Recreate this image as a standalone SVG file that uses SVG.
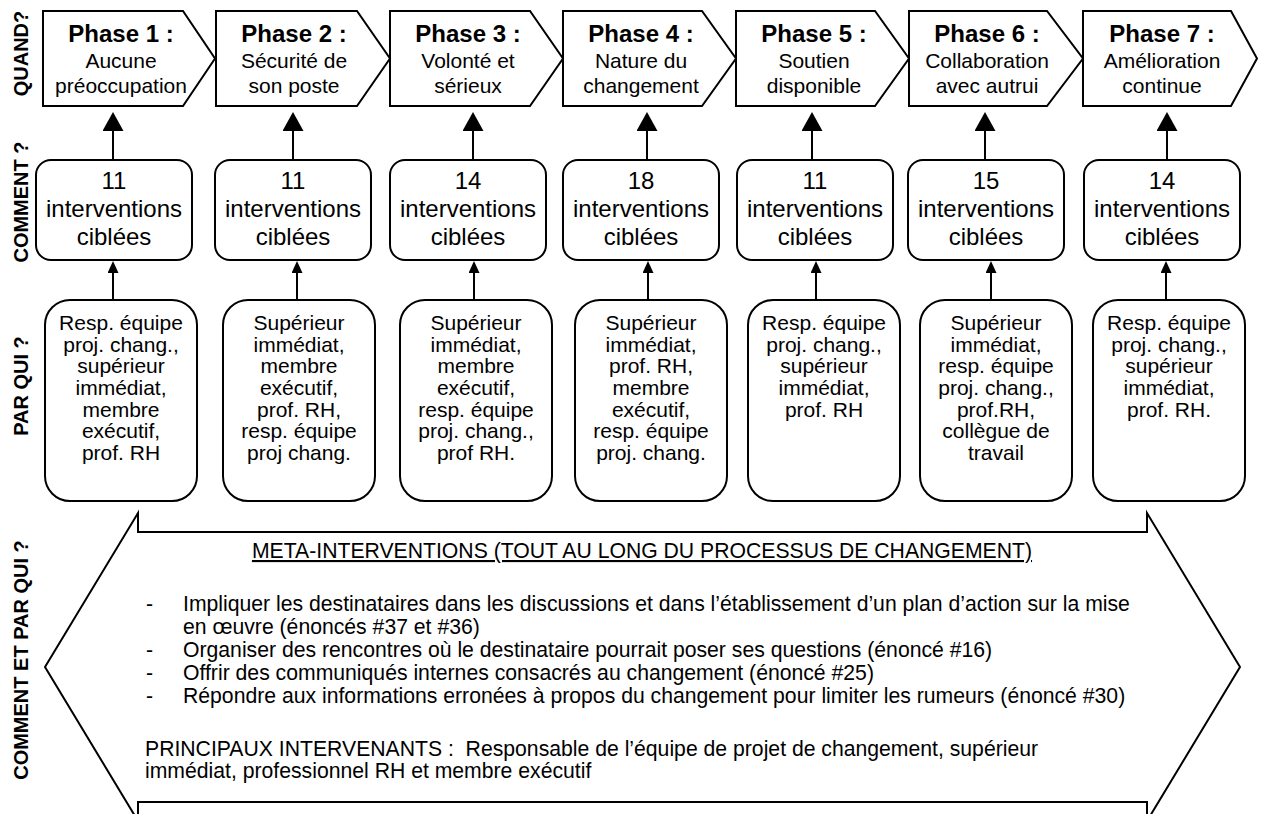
<svg xmlns="http://www.w3.org/2000/svg" width="1264" height="814" viewBox="0 0 1264 814">
<style>
text{font-family:"Liberation Sans",Arial,sans-serif;fill:#000}
.sh{fill:#fff;stroke:#000;stroke-width:2;stroke-linejoin:miter}
.lbl{font-weight:bold;font-size:20px;text-anchor:middle}
.ph{font-size:21px;text-anchor:middle}
.ph .b{font-weight:bold;font-size:24px}
.iv{font-size:24px;text-anchor:middle}
.who{font-size:21px;text-anchor:middle}
.meta{font-size:21.2px}
.cn{stroke:#000;stroke-width:2;fill:none}
</style>
<defs>
<marker id="big" viewBox="0 0 19 21" refX="0" refY="10.5" markerWidth="19" markerHeight="21" markerUnits="userSpaceOnUse" orient="auto"><path d="M0,0 L19,10.5 L0,21 Z" fill="#000"/></marker>
<marker id="small" viewBox="0 0 12 11" refX="0" refY="5.5" markerWidth="12" markerHeight="11" markerUnits="userSpaceOnUse" orient="auto"><path d="M0,0 L12,5.5 L0,11 Z" fill="#000"/></marker>
</defs>
<rect width="1264" height="814" fill="#fff"/>

<g id="labels">
<text class="lbl" transform="translate(28,53.5) rotate(-90)">QUAND?</text>
<text class="lbl" transform="translate(28,202) rotate(-90)">COMMENT ?</text>
<text class="lbl" transform="translate(28,386) rotate(-90)">PAR QUI ?</text>
<text class="lbl" transform="translate(28,660) rotate(-90)">COMMENT ET PAR QUI ?</text>
</g>

<g id="phase1"><path class="sh" d="M43,11 H183 L215,58.5 L183,106 H43 Z"/><text class="ph"><tspan class="b" x="121" y="42">Phase 1 :</tspan><tspan x="121" y="68">Aucune</tspan><tspan x="121" y="93">préoccupation</tspan></text></g>
<g id="phase2"><path class="sh" d="M216,11 H357 L390,58.5 L357,106 H216 Z"/><text class="ph"><tspan class="b" x="294" y="42">Phase 2 :</tspan><tspan x="294" y="68">Sécurité de</tspan><tspan x="294" y="93">son poste</tspan></text></g>
<g id="phase3"><path class="sh" d="M390,11 H530 L563,58.5 L530,106 H390 Z"/><text class="ph"><tspan class="b" x="468" y="42">Phase 3 :</tspan><tspan x="468" y="68">Volonté et</tspan><tspan x="468" y="93">sérieux</tspan></text></g>
<g id="phase4"><path class="sh" d="M563,11 H702 L736,58.5 L702,106 H563 Z"/><text class="ph"><tspan class="b" x="641" y="42">Phase 4 :</tspan><tspan x="641" y="68">Nature du</tspan><tspan x="641" y="93">changement</tspan></text></g>
<g id="phase5"><path class="sh" d="M736,11 H875 L909,58.5 L875,106 H736 Z"/><text class="ph"><tspan class="b" x="814" y="42">Phase 5 :</tspan><tspan x="814" y="68">Soutien</tspan><tspan x="814" y="93">disponible</tspan></text></g>
<g id="phase6"><path class="sh" d="M909,11 H1047 L1083,58.5 L1047,106 H909 Z"/><text class="ph"><tspan class="b" x="987" y="42">Phase 6 :</tspan><tspan x="987" y="68">Collaboration</tspan><tspan x="987" y="93">avec autrui</tspan></text></g>
<g id="phase7"><path class="sh" d="M1083,11 H1231 L1257,58.5 L1231,106 H1083 Z"/><text class="ph"><tspan class="b" x="1162" y="42">Phase 7 :</tspan><tspan x="1162" y="68">Amélioration</tspan><tspan x="1162" y="93">continue</tspan></text></g>

<g id="iv1"><rect class="sh" x="36" y="160" width="156" height="100" rx="15"/><text class="iv"><tspan x="114" y="189">11</tspan><tspan x="114" y="217">interventions</tspan><tspan x="114" y="245">ciblées</tspan></text></g>
<g id="iv2"><rect class="sh" x="215" y="160" width="156" height="100" rx="15"/><text class="iv"><tspan x="293" y="189">11</tspan><tspan x="293" y="217">interventions</tspan><tspan x="293" y="245">ciblées</tspan></text></g>
<g id="iv3"><rect class="sh" x="390" y="160" width="156" height="100" rx="15"/><text class="iv"><tspan x="468" y="189">14</tspan><tspan x="468" y="217">interventions</tspan><tspan x="468" y="245">ciblées</tspan></text></g>
<g id="iv4"><rect class="sh" x="563" y="160" width="156" height="100" rx="15"/><text class="iv"><tspan x="641" y="189">18</tspan><tspan x="641" y="217">interventions</tspan><tspan x="641" y="245">ciblées</tspan></text></g>
<g id="iv5"><rect class="sh" x="737" y="160" width="156" height="100" rx="15"/><text class="iv"><tspan x="815" y="189">11</tspan><tspan x="815" y="217">interventions</tspan><tspan x="815" y="245">ciblées</tspan></text></g>
<g id="iv6"><rect class="sh" x="908" y="160" width="156" height="100" rx="15"/><text class="iv"><tspan x="986" y="189">15</tspan><tspan x="986" y="217">interventions</tspan><tspan x="986" y="245">ciblées</tspan></text></g>
<g id="iv7"><rect class="sh" x="1084" y="160" width="156" height="100" rx="15"/><text class="iv"><tspan x="1162" y="189">14</tspan><tspan x="1162" y="217">interventions</tspan><tspan x="1162" y="245">ciblées</tspan></text></g>

<g id="who1"><rect class="sh" x="45" y="300" width="152" height="201" rx="25"/><text class="who"><tspan x="121" y="330">Resp. équipe</tspan><tspan x="121" y="352">proj. chang.,</tspan><tspan x="121" y="373">supérieur</tspan><tspan x="121" y="395">immédiat,</tspan><tspan x="121" y="417">membre</tspan><tspan x="121" y="438">exécutif,</tspan><tspan x="121" y="460">prof. RH</tspan></text></g>
<g id="who2"><rect class="sh" x="223" y="300" width="152" height="201" rx="25"/><text class="who"><tspan x="299" y="330">Supérieur</tspan><tspan x="299" y="352">immédiat,</tspan><tspan x="299" y="373">membre</tspan><tspan x="299" y="395">exécutif,</tspan><tspan x="299" y="417">prof. RH,</tspan><tspan x="299" y="438">resp. équipe</tspan><tspan x="299" y="460">proj chang.</tspan></text></g>
<g id="who3"><rect class="sh" x="400" y="300" width="152" height="201" rx="25"/><text class="who"><tspan x="476" y="330">Supérieur</tspan><tspan x="476" y="352">immédiat,</tspan><tspan x="476" y="373">membre</tspan><tspan x="476" y="395">exécutif,</tspan><tspan x="476" y="417">resp. équipe</tspan><tspan x="476" y="438">proj. chang.,</tspan><tspan x="476" y="460">prof RH.</tspan></text></g>
<g id="who4"><rect class="sh" x="575" y="300" width="152" height="201" rx="25"/><text class="who"><tspan x="651" y="330">Supérieur</tspan><tspan x="651" y="352">immédiat,</tspan><tspan x="651" y="373">prof. RH,</tspan><tspan x="651" y="395">membre</tspan><tspan x="651" y="417">exécutif,</tspan><tspan x="651" y="438">resp. équipe</tspan><tspan x="651" y="460">proj. chang.</tspan></text></g>
<g id="who5"><rect class="sh" x="748" y="300" width="152" height="201" rx="25"/><text class="who"><tspan x="824" y="330">Resp. équipe</tspan><tspan x="824" y="352">proj. chang.,</tspan><tspan x="824" y="373">supérieur</tspan><tspan x="824" y="395">immédiat,</tspan><tspan x="824" y="417">prof. RH</tspan></text></g>
<g id="who6"><rect class="sh" x="920" y="300" width="152" height="201" rx="25"/><text class="who"><tspan x="996" y="330">Supérieur</tspan><tspan x="996" y="352">immédiat,</tspan><tspan x="996" y="373">resp. équipe</tspan><tspan x="996" y="395">proj. chang.,</tspan><tspan x="996" y="417">prof.RH,</tspan><tspan x="996" y="438">collègue de</tspan><tspan x="996" y="460">travail</tspan></text></g>
<g id="who7"><rect class="sh" x="1093" y="300" width="152" height="201" rx="25"/><text class="who"><tspan x="1169" y="330">Resp. équipe</tspan><tspan x="1169" y="352">proj. chang.,</tspan><tspan x="1169" y="373">supérieur</tspan><tspan x="1169" y="395">immédiat,</tspan><tspan x="1169" y="417">prof. RH.</tspan></text></g>

<g id="connectors" class="cn">
<line x1="113" y1="160" x2="113" y2="131" marker-end="url(#big)"/>
<line x1="293" y1="160" x2="293" y2="131" marker-end="url(#big)"/>
<line x1="473" y1="160" x2="473" y2="131" marker-end="url(#big)"/>
<line x1="647" y1="160" x2="647" y2="131" marker-end="url(#big)"/>
<line x1="812" y1="160" x2="812" y2="131" marker-end="url(#big)"/>
<line x1="985" y1="160" x2="985" y2="131" marker-end="url(#big)"/>
<line x1="1167" y1="160" x2="1167" y2="131" marker-end="url(#big)"/>
<line x1="113" y1="300" x2="113" y2="273" marker-end="url(#small)"/>
<line x1="297" y1="300" x2="297" y2="273" marker-end="url(#small)"/>
<line x1="474" y1="300" x2="474" y2="273" marker-end="url(#small)"/>
<line x1="648" y1="300" x2="648" y2="273" marker-end="url(#small)"/>
<line x1="816" y1="300" x2="816" y2="273" marker-end="url(#small)"/>
<line x1="991" y1="300" x2="991" y2="273" marker-end="url(#small)"/>
<line x1="1166" y1="300" x2="1166" y2="273" marker-end="url(#small)"/>
</g>

<g id="meta">
<path class="sh" d="M138,513 V532 H1147 V513 L1240,667 L1147,821 V802 H138 V821 L45,667 Z"/>
<text class="meta" x="642" y="558" text-anchor="middle" text-decoration="underline">META-INTERVENTIONS (TOUT AU LONG DU PROCESSUS DE CHANGEMENT)</text>
<text class="meta" x="146" y="611">-</text>
<text class="meta" x="183" y="611">Impliquer les destinataires dans les discussions et dans l’établissement d’un plan d’action sur la mise</text>
<text class="meta" x="183" y="634">en œuvre (énoncés #37 et #36)</text>
<text class="meta" x="146" y="657">-</text>
<text class="meta" x="183" y="657">Organiser des rencontres où le destinataire pourrait poser ses questions (énoncé #16)</text>
<text class="meta" x="146" y="680">-</text>
<text class="meta" x="183" y="680">Offrir des communiqués internes consacrés au changement (énoncé #25)</text>
<text class="meta" x="146" y="703">-</text>
<text class="meta" x="183" y="703">Répondre aux informations erronées à propos du changement pour limiter les rumeurs (énoncé #30)</text>
<text class="meta" x="145" y="756" xml:space="preserve">PRINCIPAUX INTERVENANTS :  Responsable de l’équipe de projet de changement, supérieur</text>
<text class="meta" x="145" y="778">immédiat, professionnel RH et membre exécutif</text>
</g>
</svg>
